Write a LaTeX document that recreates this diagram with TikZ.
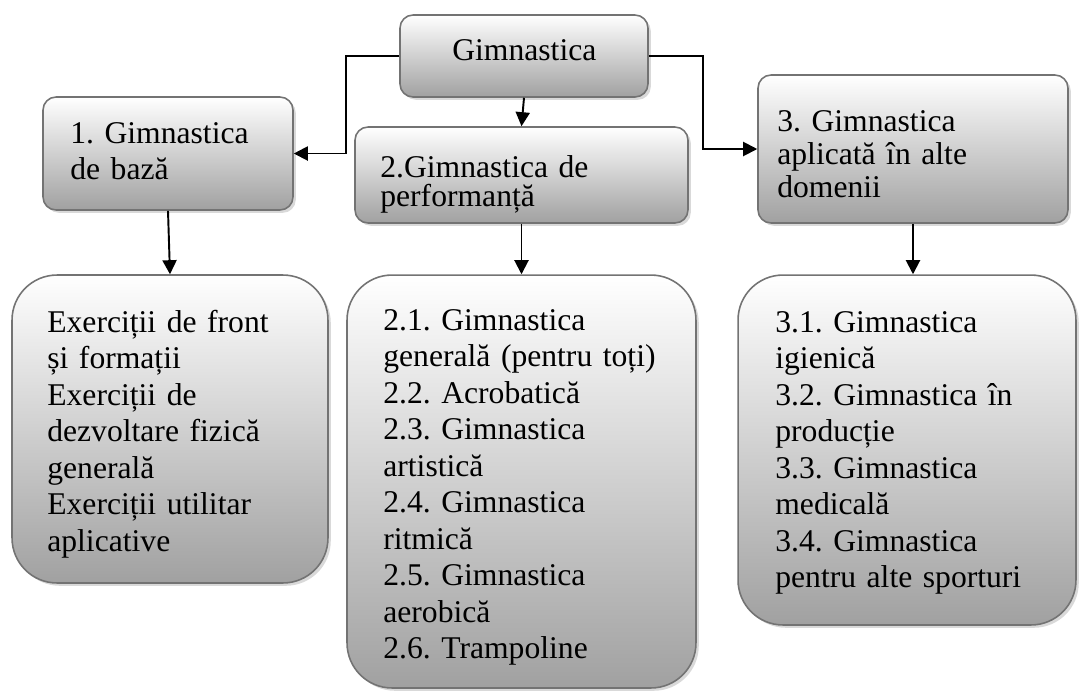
\documentclass[tikz,border=0pt]{standalone}
\usepackage{fontspec}
\setmainfont{Liberation Serif}
\usetikzlibrary{arrows.meta, shadows}
\frenchspacing

\begin{document}
\begin{tikzpicture}[x=0.02cm, y=-0.02cm,
  box/.style={draw=black!55, line width=.9pt, top color=white, bottom color=black!37,
    drop shadow={shadow xshift=1.6pt, shadow yshift=-1.6pt, opacity=.3}},
  head/.style={box, rounded corners=.26cm},
  leaf/.style={box, rounded corners=.9cm},
  txt/.style={anchor=base west, inner sep=0pt, text width=7cm, align=left,
    font=\fontsize{18pt}{20.8pt}\selectfont},
  conn/.style={line width=1.1pt, -{Triangle[length=8pt, width=8pt]}}]

  % frame
  \useasboundingbox (0,0) rectangle (1079,691);

  % upper boxes
  \node[head, minimum width=4.96cm, minimum height=1.64cm] (top) at (524,56) {};
  \node[head, minimum width=5.00cm, minimum height=2.26cm] (b1) at (168,153.5) {};
  \node[head, minimum width=6.66cm, minimum height=1.92cm] (b2) at (521.5,175) {};
  \node[head, minimum width=6.20cm, minimum height=2.96cm] (b3) at (913,149) {};

  % lower boxes
  \node[leaf, minimum width=6.32cm, minimum height=6.16cm] (e1) at (170,429) {};
  \node[leaf, minimum width=6.98cm, minimum height=8.26cm] (e2) at (521.5,481.5) {};
  \node[leaf, minimum width=6.76cm, minimum height=7.00cm] (e3) at (907,450) {};

  % texts
  \node[txt] (ttop) at (452,60) {Gimnastica};
  \node[txt, font=\fontsize{18pt}{20.5pt}\selectfont] (t1) at (70,143)
    {1. Gimnastica\\de bază};
  \node[txt, font=\fontsize{18pt}{17pt}\selectfont] (t2) at (380,177)
    {2.Gimnastica de\\performanță};
  \node[txt, font=\fontsize{18pt}{18.8pt}\selectfont] (t3) at (777,131)
    {3. Gimnastica\\aplicată în alte\\domenii};
  \node[txt] (s1) at (47,332)
    {Exerciții de front\\și formații\\Exerciții de\\dezvoltare fizică\\generală\\Exerciții utilitar\\aplicative};
  \node[txt] (s2) at (383,330)
    {2.1. Gimnastica\\generală (pentru toți)\\2.2. Acrobatică\\2.3. Gimnastica\\artistică\\2.4. Gimnastica\\ritmică\\2.5. Gimnastica\\aerobică\\2.6. Trampoline};
  \node[txt] (s3) at (775,332)
    {3.1. Gimnastica\\igienică\\3.2. Gimnastica în\\producție\\3.3. Gimnastica\\medicală\\3.4. Gimnastica\\pentru alte sporturi};

  % connectors
  \coordinate (lbend) at (346,0);
  \coordinate (rbend) at (703,0);
  \draw[conn] (top.west) -| (lbend |- b1.east) -- (b1.east);
  \draw[conn] (top.east) -| (rbend |- b3.west) -- (b3.west);
  \draw[conn] (top.south) -- (b2.north);
  \draw[conn] (b1.south) -- (e1.north);
  \draw[conn] (b2.south) -- (e2.north);
  \draw[conn] (b3.south) -- (b3.south |- e3.north);
\end{tikzpicture}
\end{document}
